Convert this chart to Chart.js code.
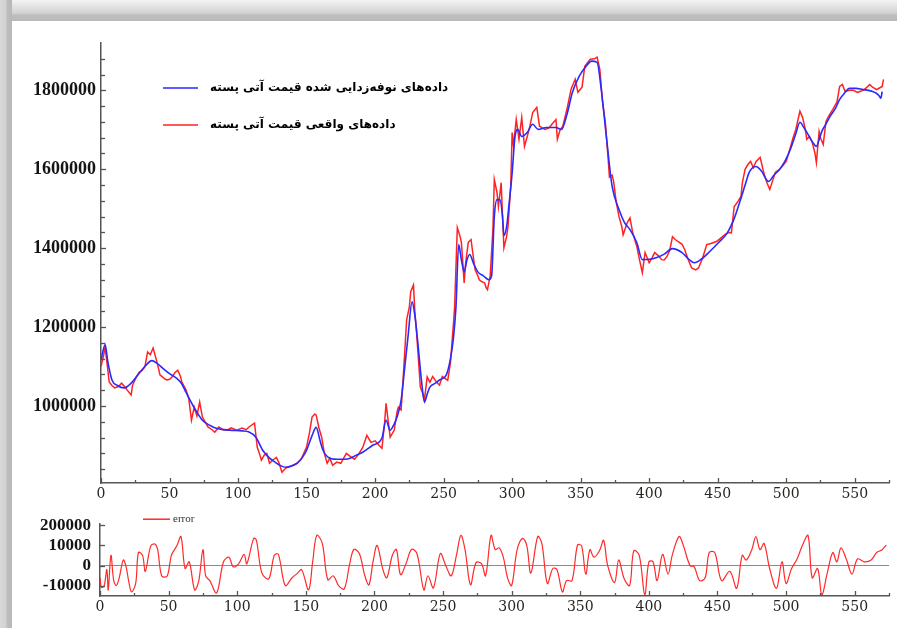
<!DOCTYPE html>
<html>
<head>
<meta charset="utf-8">
<script src="https://cdn.jsdelivr.net/npm/chart.js@4.4.1/dist/chart.umd.min.js"></script>
<style>
  html, body { margin: 0; padding: 0; }
  body { width: 897px; height: 628px; position: relative; overflow: hidden; background: #fff; }
  #frameTop { position: absolute; left: 0; top: 0; width: 897px; height: 21px;
    background: linear-gradient(#f4f4f4 0px, #e8e8e8 4px, #dddddd 9px, #d2d2d2 13px, #bebebe 15px, #bababa 21px); }
  #frameLeft { position: absolute; left: 0; top: 0; width: 12px; height: 628px;
    background: linear-gradient(to right, #d8d8d8 0px, #d2d2d2 6px, #bdbdbd 7px, #b8b8b8 12px); }
  canvas { position: absolute; left: 0; }
  #mainChart { top: 0; }
  #errChart { top: 505px; }
</style>
</head>
<body>
<div id="frameTop"></div>
<div id="frameLeft"></div>
<canvas id="mainChart" width="897" height="505"></canvas>
<canvas id="errChart" width="897" height="123"></canvas>
<script>
// smoothed (denoised) price - blue
const smoothIdx = [0,3,5,8,12,17,22,28,33,37,41,45,50,55,59,62,67,74,80,84,94,103,108,113,118,123,127,131,135,139,143,147,150,154,157,160,162,167,174,180,186,191,198,205,208,211,214,216,219,222,224,227,229,231,234,236,238,240,244,247,252,255,257,259,261,263,265,267,269,272,275,279,283,285,287,289,291,293,294,296,298,300,302,304,307,311,315,319,325,332,336,340,344,349,354,358,362,365,369,373,378,382,386,391,395,400,405,411,417,424,429,433,438,444,450,457,462,466,470,473,478,482,487,491,495,499,503,507,510,513,516,519,522,524,526,529,532,536,539,543,546,551,556,560,563,566,568,569,570];
const smoothVal = [1117000,1155000,1112000,1066000,1052000,1046000,1058000,1084000,1104000,1115000,1108000,1096000,1082000,1071000,1056000,1035000,1002000,964000,950000,944000,939000,937000,934000,921000,888000,868000,858000,849000,845000,848000,855000,870000,888000,925000,946000,910000,888000,868000,865000,866000,875000,883000,900000,919000,964000,939000,955000,972000,1015000,1110000,1175000,1264000,1230000,1167000,1060000,1010000,1030000,1048000,1058000,1066000,1079000,1120000,1167000,1250000,1409000,1370000,1340000,1370000,1384000,1360000,1340000,1330000,1320000,1330000,1480000,1523000,1523000,1480000,1432000,1455000,1520000,1590000,1680000,1701000,1683000,1693000,1714000,1701000,1706000,1706000,1701000,1739000,1795000,1836000,1861000,1874000,1871000,1803000,1675000,1556000,1498000,1465000,1447000,1414000,1371000,1372000,1376000,1385000,1399000,1389000,1372000,1363000,1372000,1391000,1412000,1439000,1475000,1516000,1560000,1592000,1607000,1595000,1569000,1585000,1599000,1620000,1650000,1690000,1719000,1705000,1688000,1670000,1658000,1675000,1696000,1715000,1734000,1755000,1777000,1795000,1805000,1805000,1802000,1800000,1797000,1792000,1785000,1780000,1797000];

// actual price - red
const realIdx = [0,2,3,4,6,8,10,13,15,17,19,22,23,26,28,30,32,34,36,38,40,42,43,46,48,50,52,54,56,58,59,62,64,66,68,70,72,74,76,78,81,83,86,89,92,95,99,103,106,108,110,112,114,116,117,119,121,123,125,128,130,132,134,136,139,143,146,150,152,154,156,157,159,161,163,165,167,169,172,175,179,182,185,188,191,194,197,200,203,205,207,208,210,211,214,216,217,219,221,223,225,226,228,229,230,232,233,235,236,238,240,242,245,247,249,251,253,255,257,258,260,262,263,265,266,268,270,272,273,275,276,278,280,281,282,284,286,287,289,290,292,293,294,296,297,299,300,301,303,305,307,309,311,313,315,318,320,322,324,327,329,332,333,335,337,340,343,346,348,351,353,355,357,360,362,364,366,368,370,371,373,374,376,378,380,381,384,386,388,391,393,395,397,400,402,404,407,409,411,413,415,417,419,421,424,426,428,431,434,436,439,442,445,449,452,455,458,460,462,465,467,468,470,472,474,476,478,481,483,484,486,488,490,492,495,497,500,503,505,507,510,512,514,515,517,519,521,522,524,525,527,529,531,534,537,539,541,543,546,549,552,556,558,561,563,566,568,570,571];
const realVal = [1100000,1130000,1150000,1120000,1061000,1052000,1046000,1050000,1058000,1050000,1041000,1028000,1053000,1075000,1086000,1090000,1099000,1137000,1130000,1147000,1122000,1095000,1079000,1070000,1066000,1068000,1074000,1085000,1091000,1075000,1061000,1041000,1020000,964000,997000,975000,1010000,972000,960000,947000,940000,934000,947000,940000,939000,945000,939000,944000,940000,947000,952000,957000,896000,875000,863000,875000,880000,855000,862000,870000,855000,832000,840000,845000,848000,855000,865000,896000,930000,972000,980000,977000,945000,921000,880000,855000,868000,850000,858000,855000,880000,872000,865000,878000,895000,926000,908000,912000,900000,893000,960000,1007000,950000,921000,939000,985000,997000,990000,1100000,1218000,1251000,1290000,1307000,1240000,1200000,1100000,1048000,1030000,1015000,1074000,1060000,1075000,1060000,1053000,1075000,1070000,1065000,1110000,1200000,1249000,1452000,1430000,1414000,1312000,1360000,1415000,1422000,1370000,1345000,1330000,1320000,1315000,1312000,1300000,1295000,1330000,1450000,1574000,1540000,1505000,1566000,1480000,1401000,1430000,1455000,1560000,1693000,1660000,1726000,1676000,1731000,1658000,1683000,1710000,1744000,1757000,1709000,1705000,1701000,1705000,1714000,1726000,1676000,1700000,1709000,1752000,1803000,1828000,1795000,1808000,1861000,1870000,1879000,1880000,1884000,1853000,1770000,1719000,1630000,1580000,1585000,1570000,1516000,1480000,1455000,1434000,1465000,1477000,1439000,1404000,1370000,1338000,1389000,1363000,1375000,1389000,1380000,1371000,1370000,1379000,1395000,1429000,1422000,1417000,1410000,1396000,1375000,1350000,1345000,1350000,1375000,1409000,1412000,1417000,1425000,1434000,1440000,1439000,1505000,1520000,1531000,1566000,1600000,1612000,1620000,1604000,1620000,1630000,1600000,1587000,1565000,1549000,1570000,1592000,1600000,1607000,1620000,1655000,1680000,1701000,1747000,1731000,1700000,1676000,1683000,1668000,1640000,1617000,1696000,1680000,1663000,1721000,1735000,1752000,1770000,1810000,1815000,1797000,1800000,1800000,1795000,1800000,1805000,1815000,1808000,1802000,1806000,1810000,1828000];

// error series
const errIdx = [0,1,3,5,6,8,10,12,14,17,19,21,23,26,28,31,33,37,40,42,45,49,52,56,59,62,65,69,72,75,77,80,85,90,94,97,101,105,107,112,114,118,123,127,130,135,140,144,147,152,155,158,162,166,170,174,178,182,185,189,193,196,199,202,206,209,213,216,219,223,227,231,236,239,243,248,252,256,260,263,266,270,274,278,281,285,288,291,294,297,300,304,308,311,314,319,322,326,330,333,337,340,344,348,351,354,357,360,364,367,370,375,378,382,386,389,393,397,400,403,406,410,414,417,422,425,430,433,437,441,444,448,453,459,464,468,471,475,478,481,484,488,493,497,500,504,508,512,516,519,523,526,530,534,537,540,544,548,552,557,562,566,570,573];
const errVal = [-6000,-10700,-10000,-1900,-12000,5100,-7400,-9800,-6000,2800,-500,-8000,-13000,-8800,6500,5100,-2800,9800,10700,8000,-5100,-5100,5100,9800,14400,-1400,1900,-12000,-7400,7900,-5100,-7400,-13500,1900,4200,-500,900,5600,900,13500,12500,-3700,-6500,5100,5600,-9800,-6000,-3700,-2000,-12000,2000,15000,11000,-7000,-5000,-10000,-11500,1000,8000,6000,-5000,-9500,2000,10000,-1500,-6000,5000,8000,-4500,1000,8000,6000,-12000,-5000,-11000,6000,0,-5000,6000,15000,8000,-9500,1500,1000,-5000,15000,8000,8800,4000,-6000,-9800,7900,13500,10000,-3700,14400,11000,-8800,-1400,-1900,-13000,-7400,-7400,10200,9800,-4200,7900,4200,7400,12500,0,-8400,2800,-6500,-9800,7400,5100,-14400,1900,1900,-7400,5600,-4200,5100,14400,10200,0,-500,-7400,-6000,6500,6500,-7400,-2800,-11200,5100,2800,7900,14400,7900,11000,-1400,-11200,1900,-8800,-1400,3300,10200,14900,-6000,-1400,-14400,-3700,6500,1900,8800,3000,-4200,3300,1900,2800,6500,7900,10200];

// tick labels
const priceTickValues = [1000000, 1200000, 1400000, 1600000, 1800000];
const errTickValues = [-10000, 0, 10000, 20000];
const errTickLabels = ['-10000', '0', '10000', '200000'];

const smoothLabel = 'داده‌های نوفه‌زدایی شده قیمت آتی پسته';
const realLabel = 'داده‌های واقعی قیمت آتی پسته';
const errLabel = 'error';

function toPoints(xs, ys) {
  return xs.map((x, i) => ({x: x, y: ys[i]}));
}

// ticks drawn inward from the axes
const innerTicks = {
  id: 'innerTicks',
  afterDraw(chart, args, opts) {
    const c = chart.ctx;
    const area = chart.chartArea;
    c.save();
    c.strokeStyle = '#555';
    c.lineWidth = 1.3;
    opts.marks.forEach(m => {
      const scale = chart.scales[m.axis];
      for (let v = m.from; v <= m.to + 1e-6; v += m.step) {
        const len = (Math.abs(v % m.majorEvery) < 1e-6) ? m.major : m.minor;
        const p = Math.round(scale.getPixelForValue(v)) + 0.5;
        c.beginPath();
        if (m.axis === 'x') {
          c.moveTo(p, area.bottom);
          c.lineTo(p, area.bottom - len);
        } else {
          c.moveTo(area.left, p);
          c.lineTo(area.left + len, p);
        }
        c.stroke();
      }
    });
    c.restore();
  }
};

// legend drawn inside the plot
const plotLegend = {
  id: 'plotLegend',
  afterDraw(chart, args, opts) {
    const c = chart.ctx;
    const area = chart.chartArea;
    c.save();
    opts.items.forEach(it => {
      const ds = chart.data.datasets[it.dataset];
      const y = area.top + it.dy;
      c.strokeStyle = ds.borderColor;
      c.lineWidth = 1.5;
      c.beginPath();
      c.moveTo(area.left + it.x0, y);
      c.lineTo(area.left + it.x1, y);
      c.stroke();
      c.fillStyle = opts.color;
      c.font = opts.font;
      c.textAlign = 'left';
      c.textBaseline = 'middle';
      c.fillText(ds.label, area.left + it.tx, y + (opts.textDy || 0));
    });
    c.restore();
  }
};

const xTickFont = {family: 'DejaVu Serif', size: 14};
const yTickFont = {family: 'Liberation Serif', size: 18, weight: 'bold'};
const errYTickFont = {family: 'Liberation Serif', size: 17, weight: 'bold'};

new Chart(document.getElementById('mainChart'), {
  type: 'line',
  data: {
    datasets: [
      {label: smoothLabel, data: toPoints(smoothIdx, smoothVal), borderColor: '#2a2aff', borderWidth: 1.6,
       pointRadius: 0, cubicInterpolationMode: 'monotone', order: 0},
      {label: realLabel, data: toPoints(realIdx, realVal), borderColor: '#ff2222', borderWidth: 1.5,
       pointRadius: 0, tension: 0, order: 1}
    ]
  },
  options: {
    responsive: false,
    animation: false,
    events: [],
    layout: {padding: {top: 43, right: 8, left: 0, bottom: 0}},
    scales: {
      x: {
        type: 'linear', min: 0, max: 575,
        afterFit(s) { s.height = 22; },
        border: {display: true, color: '#555', width: 1.5},
        grid: {display: false, drawTicks: false},
        ticks: {stepSize: 50, includeBounds: false, autoSkip: false, maxRotation: 0, padding: 3,
                font: xTickFont, color: '#2a2520'}
      },
      y: {
        type: 'linear', min: 805000, max: 1920000,
        afterFit(s) { s.width = 101; },
        afterBuildTicks(s) { s.ticks = priceTickValues.map(v => ({value: v})); },
        border: {display: true, color: '#555', width: 1.5},
        grid: {display: false, drawTicks: false},
        ticks: {autoSkip: false, padding: 5, font: yTickFont, color: '#141414',
                callback: v => String(v)}
      }
    },
    plugins: {
      legend: {display: false},
      tooltip: {enabled: false},
      innerTicks: {marks: [
        {axis: 'x', from: 0, to: 575, step: 25, majorEvery: 50, major: 5, minor: 3},
        {axis: 'y', from: 840000, to: 1880000, step: 40000, majorEvery: 200000, major: 5, minor: 4}
      ]},
      plotLegend: {
        font: 'bold 12px "DejaVu Sans"', color: '#000', textDy: 0,
        items: [
          {dataset: 0, dy: 45, x0: 62, x1: 97, tx: 109},
          {dataset: 1, dy: 82, x0: 62, x1: 97, tx: 109}
        ]
      }
    }
  },
  plugins: [innerTicks, plotLegend]
});

new Chart(document.getElementById('errChart'), {
  type: 'line',
  data: {
    datasets: [
      {label: errLabel, data: toPoints(errIdx, errVal), borderColor: '#ff2a2a', borderWidth: 1.2,
       pointRadius: 0, tension: 0.35}
    ]
  },
  options: {
    responsive: false,
    animation: false,
    events: [],
    layout: {padding: {top: 15, right: 8, left: 0, bottom: 0}},
    scales: {
      x: {
        type: 'linear', min: 0, max: 575,
        afterFit(s) { s.height = 32; },
        border: {display: true, color: '#555', width: 1.5},
        grid: {display: false, drawTicks: false},
        ticks: {stepSize: 50, includeBounds: false, autoSkip: false, maxRotation: 0, padding: 3,
                font: xTickFont, color: '#2a2520'}
      },
      y: {
        type: 'linear', min: -15000, max: 20500,
        afterFit(s) { s.width = 100; },
        afterBuildTicks(s) { s.ticks = errTickValues.map(v => ({value: v})); },
        border: {display: true, color: '#555', width: 1.5},
        grid: {display: true, drawTicks: false, lineWidth: 1,
               color: ctx => (ctx.tick && ctx.tick.value === 0) ? '#8a8a8a' : 'rgba(0,0,0,0)'},
        ticks: {autoSkip: false, padding: 9, font: errYTickFont, color: '#141414',
                callback: v => {
                  const k = errTickValues.indexOf(v);
                  return k >= 0 ? errTickLabels[k] : '';
                }}
      }
    },
    plugins: {
      legend: {display: false},
      tooltip: {enabled: false},
      innerTicks: {marks: [
        {axis: 'x', from: 0, to: 575, step: 25, majorEvery: 50, major: 5, minor: 3},
        {axis: 'y', from: -10000, to: 20000, step: 10000, majorEvery: 10000, major: 5, minor: 5}
      ]},
      plotLegend: {
        font: '11px "Liberation Serif"', color: '#333', textDy: 0,
        items: [
          {dataset: 0, dy: -5, x0: 43, x1: 70, tx: 73}
        ]
      }
    }
  },
  plugins: [innerTicks, plotLegend]
});
</script>
</body>
</html>
